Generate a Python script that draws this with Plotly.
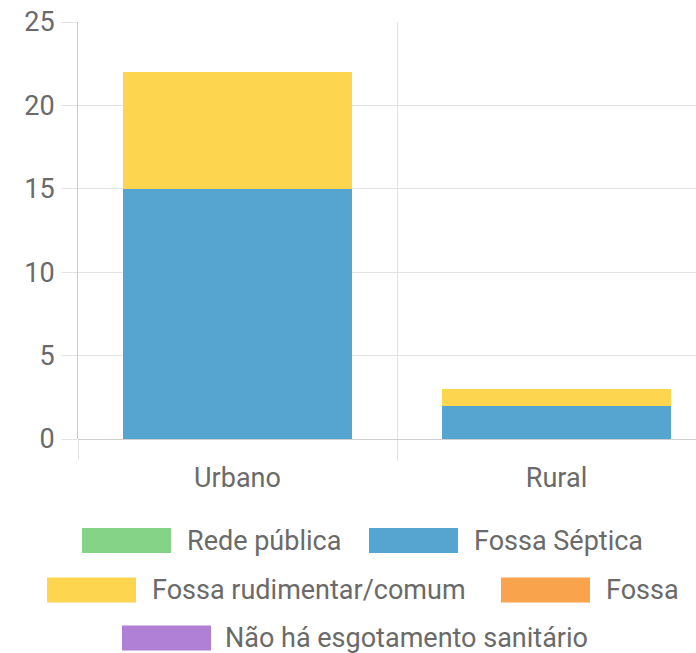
import plotly.graph_objects as go

categories = ["Urbano", "Rural"]
series_names = ["Rede pública", "Fossa Séptica", "Fossa rudimentar/comum", "Fossa", "Não há esgotamento sanitário"]
rede_publica = [0, 0]
fossa_septica = [15, 2]
fossa_rudimentar = [7, 1]
fossa = [0, 0]
nao_ha = [0, 0]
series_values = [rede_publica, fossa_septica, fossa_rudimentar, fossa, nao_ha]
colors = ["#85D387", "#56A5D0", "#FED54F", "#F9A44D", "#AF80D6"]
y_ticks = [0, 5, 10, 15, 20, 25]

W, H = 696, 653
L, R, T, B = 78, 0, 22, 214
PW, PH = W - L - R, H - T - B
FONT = "Roboto"
FS = 27
TXT = "#6a6a6a"
GRID = "#e3e3e3"

fig = go.Figure()
for name, vals, col in zip(series_names, series_values, colors):
    fig.add_trace(go.Bar(x=categories, y=vals, name=name, marker=dict(color=col, line=dict(width=0)),
                         showlegend=False))

# category width in px ~319 -> range end so plot is cropped at right edge
cat_px = 319
x_end = -0.5 + PW / cat_px

tfont = dict(size=FS, color=TXT, family=FONT)

fig.update_layout(
    width=W, height=H,
    margin=dict(l=L, r=R, t=T, b=B),
    barmode="stack", bargap=0.285,
    paper_bgcolor="white", plot_bgcolor="white",
    font=dict(family=FONT, size=FS, color=TXT),
    xaxis=dict(type="category", range=[-0.5, x_end], tickson="boundaries", ticks="outside",
               ticklen=21, tickcolor=GRID, showgrid=True, gridcolor=GRID, gridwidth=1,
               showline=False, zeroline=False, tickfont=tfont,
               ticklabelstandoff=20),
    yaxis=dict(range=[0, 25], tickvals=y_ticks, ticks="outside", ticklen=16, tickcolor=GRID,
               showgrid=True, gridcolor=GRID, zeroline=True, zerolinecolor="#cfcfcf", zerolinewidth=1,
               showline=True, linecolor="#cbcbcb", linewidth=1,
               tickfont=tfont, ticklabelstandoff=1),
)

# custom legend (wide colour boxes like the reference)
def px_x(px):
    return (px - L) / PW

def px_y(py):
    return (T + PH - py) / PH

legend_layout = [  # (box left px, row centre px, text left px)
    (82, 540.5, 185),
    (369, 540.5, 472),
    (47, 590, 150),
    (501, 590, 604),
    (122, 638, 223),
]
BOXW, BOXH = 89, 25
for (bx, cy, tx), name, col in zip(legend_layout, series_names, colors):
    fig.add_shape(type="rect", xref="paper", yref="paper",
                  x0=px_x(bx), x1=px_x(bx + BOXW), y0=px_y(cy - BOXH / 2), y1=px_y(cy + BOXH / 2),
                  fillcolor=col, line=dict(width=0), layer="above")
    fig.add_annotation(xref="paper", yref="paper", x=px_x(tx), y=px_y(cy), text=name,
                       showarrow=False, xanchor="left", yanchor="middle",
                       font=tfont)

fig.write_html("out.html")
